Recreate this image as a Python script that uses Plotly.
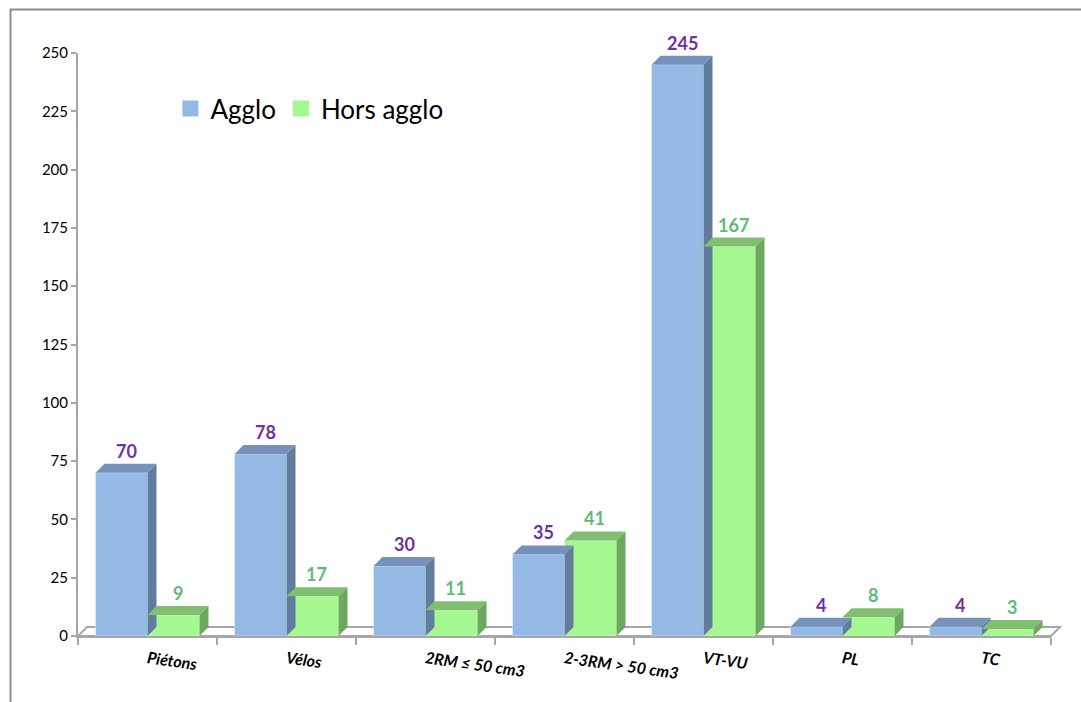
import plotly.graph_objects as go

categories = ["Piétons", "Vélos", "2RM ≤ 50 cm3", "2-3RM > 50 cm3", "VT-VU", "PL", "TC"]
agglo = [70, 78, 30, 35, 245, 4, 4]
hors_agglo = [9, 17, 11, 41, 167, 8, 3]
y_ticks = [0, 25, 50, 75, 100, 125, 150, 175, 200, 225, 250]

W, H = 1081, 702
ML, MR, MT, MB = 78, 30, 53, 66
PW, PH = W - ML - MR, H - MT - MB
YMAX = 250
N = len(categories)
DEPTH = 9  # pixel depth of the 3D effect
BARGAP = 0.252
BW = (1 - BARGAP) / 2

dx = DEPTH / (PW / N)
dy = DEPTH / (PH / YMAX)

series = [
    dict(name="Agglo", vals=agglo, front="#95B9E5", top="#7692BC", side="#617C9E", label="#7030A0", off=-BW),
    dict(name="Hors agglo", vals=hors_agglo, front="#A5F88F", top="#80BF70", side="#6CA85F", label="#5DBB77", off=0.0),
]

fig = go.Figure()
for s in series:
    fig.add_trace(go.Bar(
        x=categories, y=s["vals"], name=s["name"], showlegend=False,
        marker=dict(color=s["front"], line=dict(color="rgba(255,255,255,0.6)", width=0.6)),
        hoverinfo="skip",
    ))
# legend entries with larger square keys
for s in series:
    fig.add_trace(go.Scatter(
        x=[None], y=[None], mode="markers", name=s["name"], showlegend=True,
        marker=dict(symbol="square", size=16, color=s["front"]), hoverinfo="skip",
    ))

shapes = []
annotations = []
# floor (paper coords)
fx = DEPTH / PW
fy = DEPTH / PH
shapes.append(dict(type="path", xref="paper", yref="paper", layer="below",
                   path=f"M0,0 L1,0 L{1+fx},{fy} L{fx},{fy} Z",
                   fillcolor="white", line=dict(color="#A6A6A6", width=2)))

for s in series:
    for i, v in enumerate(s["vals"]):
        x0 = i + s["off"]
        x1 = x0 + BW
        # top face
        shapes.append(dict(type="path", xref="x", yref="y", layer="above",
                           path=f"M{x0},{v} L{x1},{v} L{x1+dx},{v+dy} L{x0+dx},{v+dy} Z",
                           fillcolor=s["top"], line=dict(width=0)))
        # side face
        shapes.append(dict(type="path", xref="x", yref="y", layer="above",
                           path=f"M{x1},0 L{x1+dx},{dy} L{x1+dx},{v+dy} L{x1},{v} Z",
                           fillcolor=s["side"], line=dict(width=0)))
        annotations.append(dict(x=(x0 + x1) / 2 + dx / 2, y=v + dy, xref="x", yref="y",
                                text=f"<b>{v}</b>", showarrow=False, yanchor="bottom", yshift=0,
                                font=dict(family="Lato", size=18, color=s["label"])))

# outer frame (right and bottom edges fall outside the picture)
shapes.append(dict(type="rect", xref="paper", yref="paper",
                   x0=(10.5 - ML) / PW, x1=(W + 20 - ML) / PW,
                   y0=(MT + PH - (H + 20)) / PH, y1=(MT + PH - 9.5) / PH,
                   line=dict(color="#8C8C8C", width=2), fillcolor="rgba(0,0,0,0)", layer="below"))

fig.update_layout(
    width=W, height=H,
    margin=dict(l=ML, r=MR, t=MT, b=MB, autoexpand=False),
    paper_bgcolor="white", plot_bgcolor="rgba(0,0,0,0)",
    barmode="group", bargap=BARGAP, bargroupgap=0,
    font=dict(family="Lato", color="#000000"),
    shapes=shapes, annotations=annotations,
    showlegend=True,
    legend=dict(orientation="h", x=0.095, y=0.945, xanchor="left", yanchor="top",
                font=dict(family="Lato", size=26, color="#000000"),
                bgcolor="rgba(0,0,0,0)", itemsizing="trace", traceorder="normal"),
    xaxis=dict(type="category", showline=True, linecolor="#A6A6A6", linewidth=2, automargin=False,
               ticks="outside", tickson="boundaries", ticklen=7, tickcolor="#A6A6A6", tickwidth=1.5,
               tickangle=8, showgrid=False, zeroline=False, range=[-0.5, N - 0.5],
               ticklabelstandoff=6,
               tickfont=dict(family="Lato", size=16, style="italic", weight="bold", color="#000000")),
    yaxis=dict(range=[0, YMAX], tickvals=y_ticks, showline=True, linecolor="#A6A6A6", linewidth=2,
               automargin=False,
               ticks="outside", ticklen=5, tickcolor="#A6A6A6", tickwidth=1.5,
               showgrid=False, zeroline=False,
               tickfont=dict(family="Lato", size=15, color="#000000")),
)

fig.write_html("out.html", config={"displayModeBar": False},
               post_script="document.body.style.margin='0';document.body.style.overflow='hidden';")
